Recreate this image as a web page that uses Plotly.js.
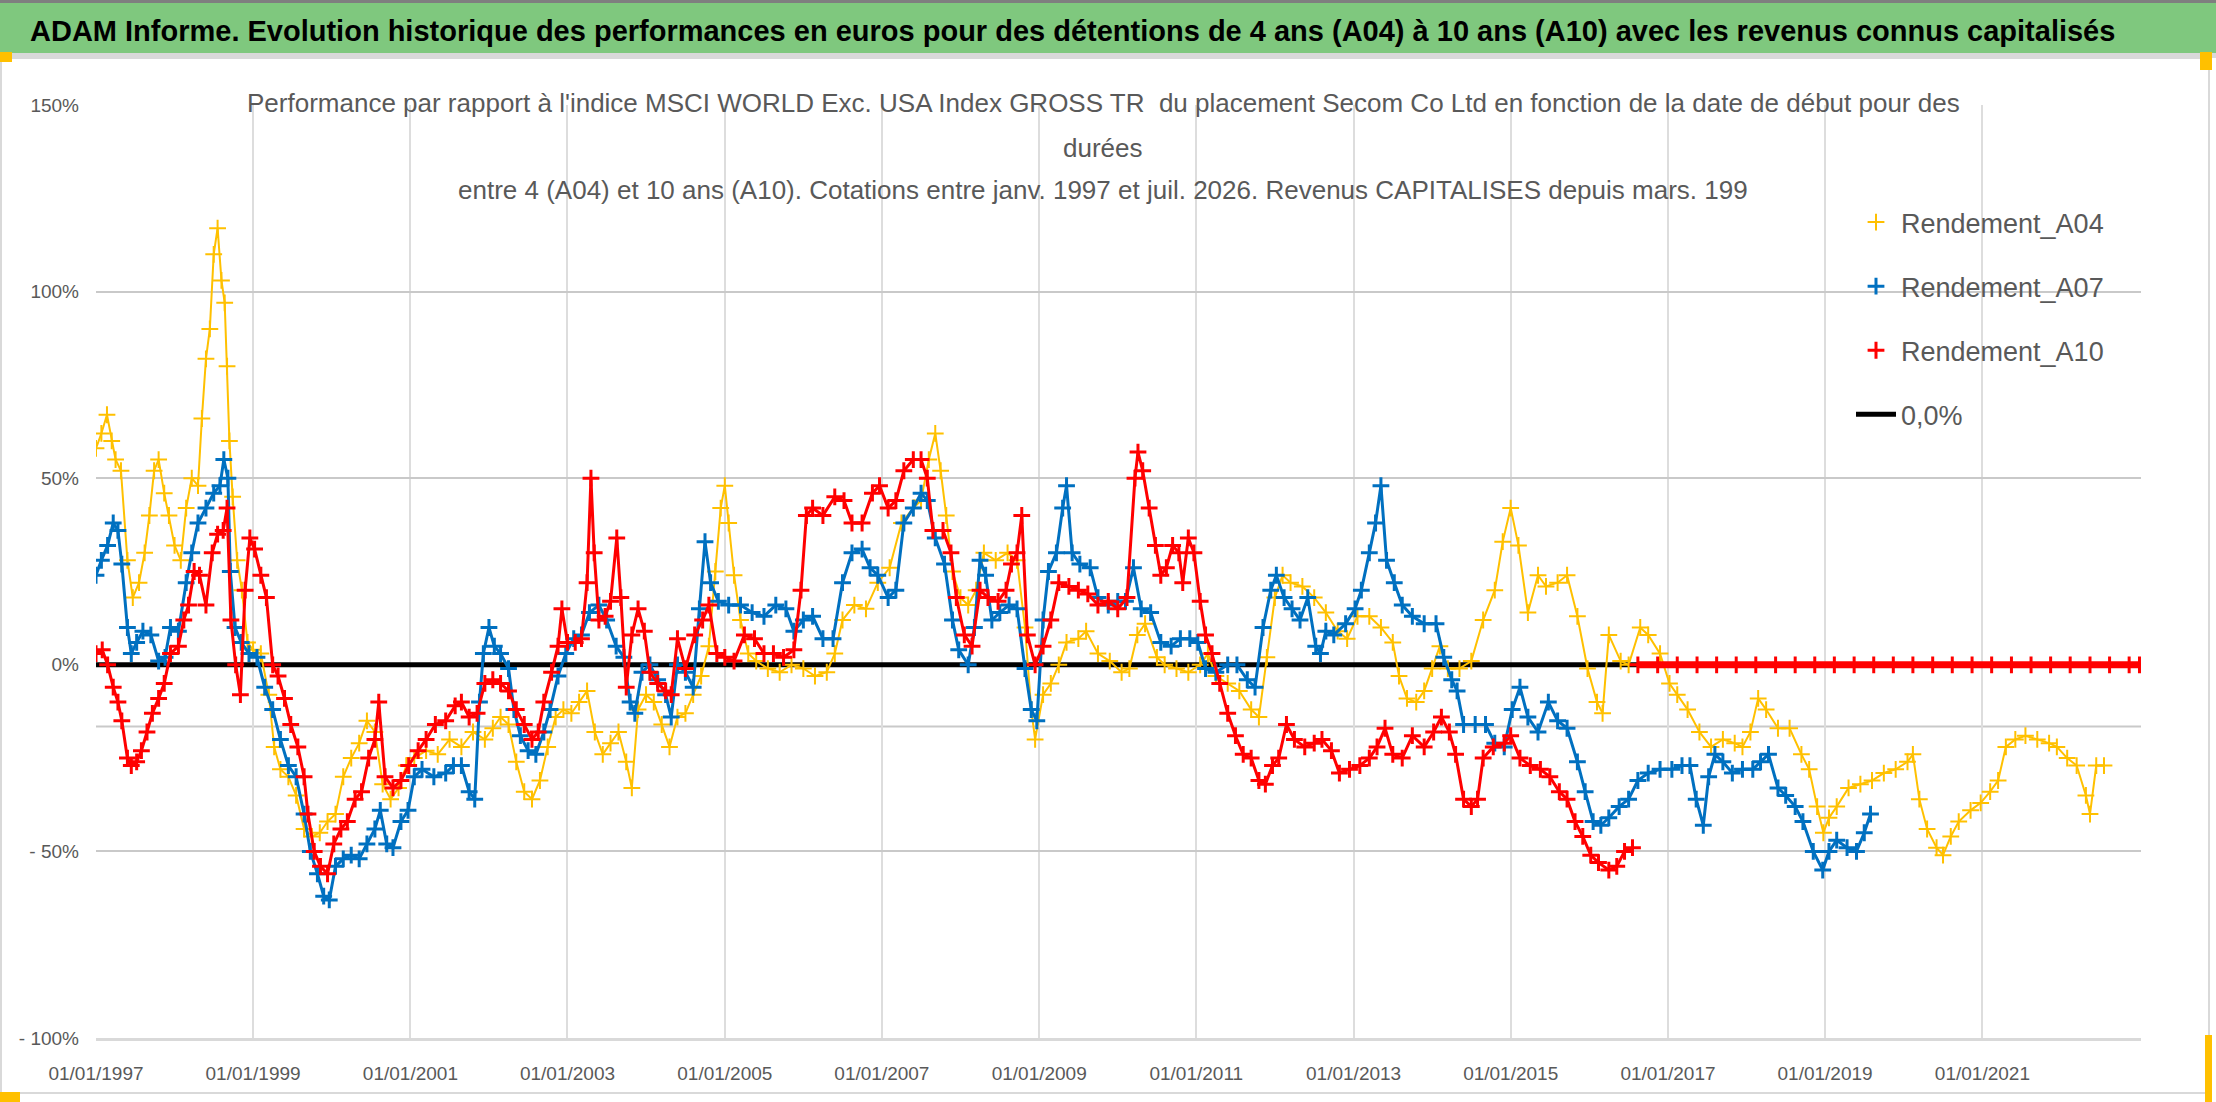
<!DOCTYPE html>
<html>
<head>
<meta charset="utf-8">
<script src="https://cdn.plot.ly/plotly-3.0.1.min.js"></script>
<style>
  body { margin: 0; background: #fff; }
  #chart { width: 2216px; height: 1102px; }
</style>
</head>
<body>
<div id="chart"></div>
<script>
// --- values (decimal year, percent) ---

var yearsA04 = [
  1997.00,1997.07,1997.14,1997.20,1997.25,1997.32,1997.40,1997.47,1997.55,1997.62,1997.68,1997.74,1997.80,1997.87,1997.93,
  1998.00,1998.08,1998.15,1998.22,1998.30,1998.35,1998.40,1998.45,1998.50,1998.55,1998.60,1998.64,1998.67,1998.70,1998.74,1998.80,1998.86,1998.93,
  1999.00,1999.10,1999.20,1999.27,1999.35,1999.45,1999.55,1999.65,1999.75,1999.85,1999.95,
  2000.05,2000.15,2000.25,2000.35,2000.45,2000.55,2000.65,2000.75,2000.85,2000.95,
  2001.05,2001.20,2001.35,2001.50,2001.65,2001.80,2001.95,
  2002.05,2002.15,2002.25,2002.35,2002.45,2002.55,2002.65,2002.75,2002.85,2002.95,
  2003.05,2003.15,2003.25,2003.35,2003.45,2003.55,2003.65,2003.75,2003.82,2003.90,
  2004.00,2004.10,2004.20,2004.30,2004.40,2004.50,2004.60,2004.70,2004.80,2004.88,2004.95,
  2005.00,2005.05,2005.12,2005.20,2005.30,2005.40,2005.55,2005.70,2005.85,
  2006.00,2006.15,2006.30,2006.40,2006.50,2006.65,2006.80,2006.95,
  2007.10,2007.25,2007.40,2007.50,2007.60,2007.68,2007.75,2007.82,2007.90,
  2008.00,2008.10,2008.20,2008.30,2008.45,2008.60,2008.72,2008.82,2008.90,2008.95,
  2009.05,2009.15,2009.25,2009.35,2009.50,2009.60,2009.75,2009.90,
  2010.05,2010.15,2010.25,2010.35,2010.50,2010.60,2010.75,2010.90,
  2011.05,2011.15,2011.25,2011.40,2011.55,2011.70,2011.80,2011.90,
  2012.00,2012.10,2012.20,2012.35,2012.50,2012.65,2012.80,2012.92,
  2013.05,2013.20,2013.35,2013.50,2013.58,2013.68,2013.80,2013.90,
  2014.00,2014.10,2014.20,2014.35,2014.50,2014.65,2014.80,2014.90,
  2015.00,2015.10,2015.22,2015.35,2015.45,2015.60,2015.72,2015.85,2015.98,
  2016.10,2016.17,2016.25,2016.40,2016.50,2016.65,2016.75,2016.90,
  2017.02,2017.12,2017.25,2017.40,2017.55,2017.70,2017.85,2017.95,
  2018.05,2018.15,2018.25,2018.40,2018.55,2018.70,2018.80,2018.90,2018.98,
  2019.05,2019.15,2019.30,2019.45,2019.60,2019.75,2019.90,
  2020.05,2020.12,2020.20,2020.30,2020.42,2020.50,2020.60,2020.70,2020.85,2020.98,
  2021.10,2021.20,2021.30,2021.42,2021.55,2021.70,2021.85,2021.95,
  2022.08,2022.20,2022.32,2022.37,2022.45,2022.55
];
var valuesA04 = [
  58,62,67,60,55,52,28,18,22,30,40,52,55,46,40,
  32,28,42,50,48,66,82,90,110,117,103,97,80,60,45,28,20,6,
  4,3,-8,-22,-28,-30,-35,-44,-46,-45,-42,
  -40,-30,-25,-21,-15,-18,-32,-36,-33,-27,
  -25,-23,-24,-20,-22,-18,-20,
  -17,-14,-16,-26,-34,-36,-31,-22,-14,-12,
  -13,-10,-7,-18,-24,-21,-18,-26,-33,-12,
  -8,-10,-16,-22,-14,-13,-8,-3,5,25,42,
  48,38,24,12,3,1,-1,-2,0,
  -1,-3,-2,3,12,16,15,22,
  26,38,42,44,55,62,52,40,25,
  18,16,20,30,28,30,28,10,-12,-20,
  -8,-5,0,6,7,9,3,1,
  -2,-1,8,11,2,0,-1,-2,
  0,3,-3,-5,-7,-12,-14,2,
  18,24,22,21,18,14,9,7,
  13,13,10,6,-3,-9,-10,-7,
  -1,5,-1,-1,1,12,20,33,
  42,32,14,24,21,22,24,13,-1,
  -10,-13,8,1,0,10,8,3,
  -5,-8,-12,-18,-22,-20,-21,-22,
  -18,-9,-12,-17,-17,-24,-28,-38,-45,
  -41,-38,-33,-32,-31,-29,-28,
  -26,-24,-36,-44,-49,-51,-46,-42,-39,-37,
  -34,-31,-22,-20,-19,-20,-21,-22,
  -25,-27,-35,-40,-27,-27
];

var yearsA07 = [
  1997.00,1997.07,1997.15,1997.22,1997.28,1997.33,1997.40,1997.45,1997.52,1997.60,1997.70,1997.80,1997.88,1997.95,
  1998.05,1998.15,1998.22,1998.30,1998.40,1998.50,1998.58,1998.63,1998.68,1998.71,1998.77,1998.85,1998.95,
  1999.05,1999.15,1999.25,1999.35,1999.45,1999.55,1999.65,1999.73,1999.82,1999.90,1999.97,
  2000.05,2000.15,2000.25,2000.35,2000.45,2000.55,2000.62,2000.70,2000.78,2000.88,2000.97,
  2001.05,2001.15,2001.30,2001.45,2001.55,2001.65,2001.75,2001.82,2001.88,2001.93,
  2002.00,2002.07,2002.15,2002.25,2002.32,2002.40,2002.50,2002.60,2002.70,2002.78,2002.88,2002.98,
  2003.08,2003.18,2003.28,2003.40,2003.50,2003.62,2003.72,2003.80,2003.86,2003.95,
  2004.05,2004.15,2004.25,2004.32,2004.40,2004.50,2004.60,2004.68,2004.75,2004.82,2004.92,
  2005.05,2005.20,2005.35,2005.50,2005.65,2005.78,2005.88,
  2006.00,2006.12,2006.25,2006.38,2006.50,2006.62,2006.75,2006.85,2006.95,
  2007.08,2007.18,2007.28,2007.40,2007.50,2007.58,2007.68,2007.80,2007.90,2007.98,
  2008.10,2008.18,2008.25,2008.32,2008.40,2008.50,2008.62,2008.72,2008.82,2008.90,2008.97,
  2009.05,2009.12,2009.22,2009.30,2009.35,2009.42,2009.52,2009.65,2009.75,2009.88,
  2010.00,2010.10,2010.20,2010.30,2010.42,2010.55,2010.68,2010.80,2010.92,
  2011.02,2011.12,2011.25,2011.40,2011.52,2011.65,2011.75,2011.85,2011.95,
  2012.02,2012.12,2012.22,2012.32,2012.42,2012.52,2012.58,2012.65,2012.75,2012.90,
  2013.02,2013.10,2013.20,2013.28,2013.35,2013.42,2013.52,2013.62,2013.75,2013.90,
  2014.05,2014.15,2014.25,2014.32,2014.40,2014.55,2014.68,2014.80,2014.92,
  2015.02,2015.12,2015.22,2015.35,2015.48,2015.60,2015.72,2015.85,2015.95,
  2016.05,2016.15,2016.25,2016.38,2016.50,2016.62,2016.75,2016.90,
  2017.05,2017.18,2017.28,2017.36,2017.45,2017.52,2017.60,2017.70,2017.82,2017.95,
  2018.08,2018.18,2018.28,2018.40,2018.50,2018.62,2018.72,2018.85,2018.97,
  2019.05,2019.15,2019.28,2019.40,2019.50,2019.58
];
var valuesA07 = [
  24,28,32,38,36,27,10,3,6,9,8,1,2,10,
  9,22,30,38,42,46,48,55,50,25,10,6,3,
  2,-6,-12,-20,-27,-30,-40,-50,-56,-62,-63,
  -54,-52,-51,-52,-48,-44,-39,-48,-49,-42,-39,
  -30,-28,-30,-29,-27,-27,-34,-36,-10,3,
  10,5,3,-1,-12,-19,-23,-24,-18,-12,-3,3,
  7,8,14,16,12,5,2,-10,-13,-2,
  0,-4,-8,-14,0,-2,-6,15,33,22,17,
  16,16,14,13,16,15,9,
  12,13,7,7,22,30,31,26,24,
  18,20,38,42,46,44,34,27,12,4,
  0,10,28,24,12,14,16,15,-1,-12,-15,
  12,25,30,42,48,30,27,26,18,16,
  17,17,26,15,14,6,5,7,7,
  6,-1,-2,0,0,-4,-6,10,20,
  24,18,15,12,18,5,3,9,8,11,
  15,20,30,38,48,28,22,16,13,11,
  11,2,-4,-7,-16,-16,-16,-21,-22,
  -12,-6,-14,-18,-10,-15,-17,-26,-34,
  -42,-43,-41,-38,-36,-31,-29,-28,
  -28,-27,-27,-36,-43,-30,-24,-26,-29,-28,
  -28,-26,-24,-33,-35,-38,-42,-50,-55,
  -50,-47,-49,-50,-45,-40
];

var yearsA10 = [
  1997.00,1997.08,1997.15,1997.22,1997.28,1997.33,1997.40,1997.45,1997.52,1997.58,1997.65,1997.72,1997.80,1997.87,1997.95,
  1998.05,1998.12,1998.18,1998.25,1998.32,1998.40,1998.48,1998.55,1998.62,1998.67,1998.72,1998.78,1998.84,1998.90,1998.96,
  1999.02,1999.10,1999.17,1999.25,1999.32,1999.40,1999.48,1999.57,1999.65,1999.70,1999.78,1999.86,1999.95,
  2000.03,2000.12,2000.20,2000.30,2000.38,2000.47,2000.55,2000.60,2000.68,2000.78,2000.88,2000.98,
  2001.10,2001.20,2001.32,2001.45,2001.57,2001.65,2001.75,2001.85,2001.95,
  2002.05,2002.15,2002.25,2002.35,2002.45,2002.55,2002.63,2002.70,2002.80,2002.88,2002.93,
  2003.00,2003.10,2003.18,2003.25,2003.30,2003.34,2003.40,2003.48,2003.55,2003.63,2003.68,2003.75,2003.82,2003.90,2003.98,
  2004.05,2004.15,2004.25,2004.32,2004.40,2004.50,2004.62,2004.72,2004.80,2004.90,
  2005.00,2005.12,2005.25,2005.38,2005.50,2005.62,2005.75,2005.88,2005.97,
  2006.04,2006.12,2006.25,2006.40,2006.52,2006.62,2006.75,2006.88,2006.97,
  2007.08,2007.18,2007.28,2007.40,2007.50,2007.58,2007.65,2007.78,2007.88,2007.95,
  2008.05,2008.15,2008.25,2008.35,2008.48,2008.58,2008.65,2008.72,2008.78,2008.85,2008.95,
  2009.05,2009.15,2009.25,2009.38,2009.50,2009.62,2009.75,2009.88,
  2010.00,2010.12,2010.22,2010.26,2010.32,2010.40,2010.48,2010.55,2010.62,2010.70,2010.78,2010.83,2010.90,2010.97,
  2011.05,2011.12,2011.20,2011.30,2011.40,2011.50,2011.60,2011.70,2011.80,2011.88,2011.97,
  2012.05,2012.15,2012.25,2012.38,2012.50,2012.60,2012.72,2012.82,2012.95,
  2013.08,2013.20,2013.30,2013.40,2013.50,2013.62,2013.75,2013.90,
  2014.02,2014.12,2014.22,2014.30,2014.40,2014.50,2014.58,2014.65,2014.78,2014.92,
  2015.00,2015.12,2015.25,2015.38,2015.50,2015.62,2015.72,2015.82,2015.92,
  2016.02,2016.12,2016.25,2016.35,2016.45,2016.55
];
var valuesA10 = [
  3,4,0,-6,-10,-15,-25,-27,-26,-23,-18,-13,-9,-5,3,
  5,12,16,25,24,16,30,35,36,42,12,0,-8,20,34,
  31,24,18,0,-3,-9,-16,-22,-30,-40,-50,-54,-56,
  -48,-44,-42,-36,-34,-25,-20,-10,-30,-33,-31,-27,
  -23,-20,-16,-15,-11,-10,-14,-13,-5,
  -4,-5,-7,-12,-16,-20,-18,-10,-2,5,15,
  6,6,7,22,50,30,12,13,17,34,18,-6,8,15,9,
  -2,-5,-7,-8,7,-1,8,12,16,3,
  2,1,8,7,3,3,2,4,20,
  40,42,40,45,44,38,38,46,48,
  42,44,52,55,55,50,36,36,30,18,
  8,5,20,18,17,20,27,30,40,8,0,
  5,12,22,21,20,19,16,17,
  15,18,50,57,52,42,32,24,26,32,30,22,34,30,
  17,8,3,-5,-13,-19,-24,-25,-31,-32,-27,
  -25,-16,-20,-22,-21,-20,-23,-29,-28,
  -27,-25,-22,-17,-24,-25,-19,-22,
  -18,-14,-18,-24,-36,-38,-36,-25,-22,-21,
  -19,-25,-27,-28,-30,-34,-36,-42,-46,
  -51,-53,-55,-54,-50,-49
];
// A10 has no full 10-year window after mid-2016: the series sits at 0
var yearsA10Tail = [
  2016.62,2016.87,2017.12,2017.37,2017.62,2017.87,2018.12,2018.37,2018.62,2018.87,
  2019.12,2019.37,2019.62,2019.87,2020.12,2020.37,2020.62,2020.87,2021.12,2021.37,
  2021.62,2021.87,2022.12,2022.37,2022.62,2022.87,2023.00
];
var valuesA10Tail = [
  0,0,0,0,0,0,0,0,0,0,
  0,0,0,0,0,0,0,0,0,0,
  0,0,0,0,0,0,0
];

var zeroDates = ['1997-01-01', '2023-01-01'];
var zeroValues = [0, 0];

var tickDates = ['1997-01-01','1999-01-01','2001-01-01','2003-01-01','2005-01-01','2007-01-01',
                 '2009-01-01','2011-01-01','2013-01-01','2015-01-01','2017-01-01','2019-01-01','2021-01-01'];
var tickLabels = ['01/01/1997','01/01/1999','01/01/2001','01/01/2003','01/01/2005','01/01/2007',
                  '01/01/2009','01/01/2011','01/01/2013','01/01/2015','01/01/2017','01/01/2019','01/01/2021'];
var yTicks = [-100, -50, 0, 50, 100, 150];
var yLabels = ['- 100%', '- 50%', '0%', '50%', '100%', '150%'];

var colA04 = '#FFC000', colA07 = '#0070C0', colA10 = '#FF0000';
var sans = 'Liberation Sans, Arial, sans-serif';

function toDate(d) {
    var y = Math.floor(d);
    var t0 = Date.UTC(y, 0, 1), t1 = Date.UTC(y + 1, 0, 1);
    return new Date(t0 + (d - y) * (t1 - t0)).toISOString().slice(0, 10);
}

// plot area in page pixels, used to place the decorations
var L = 96, R = 2141, T = 105, B = 1038;
function px(x) { return (x - L) / (R - L); }
function py(y) { return (B - y) / (B - T); }

function band(name, years, values, color, lw, rank) {
    var x = years.map(toDate);
    return [
        { type: 'scatter', mode: 'lines', x: x, y: values, showlegend: false, hoverinfo: 'skip',
          line: { color: color, width: lw } },
        { type: 'scatter', mode: 'markers', name: name, x: x, y: values,
          legendgroup: name, legendrank: rank,
          marker: { symbol: 'cross-thin', size: 12, color: color, line: { color: color, width: lw } } }
    ];
}

var data = [
    { type: 'scatter', mode: 'lines', name: '0,0%', x: zeroDates, y: zeroValues,
      legendgroup: 'zero', legendrank: 4, line: { color: '#000000', width: 5 } }
];
data = data.concat(band('Rendement_A04', yearsA04, valuesA04, colA04, 2, 1));
data = data.concat(band('Rendement_A07', yearsA07, valuesA07, colA07, 3, 2));
data = data.concat(band('Rendement_A10', yearsA10, valuesA10, colA10, 3, 3));
data.push({ type: 'scatter', mode: 'lines+markers', x: yearsA10Tail.map(toDate), y: valuesA10Tail,
    showlegend: false, line: { color: colA10, width: 7 },
    marker: { symbol: 'cross-thin', size: 12, color: colA10, line: { color: colA10, width: 3 } } });

function rect(x0, y0, x1, y1, fill, layer, lineCol) {
    return { type: 'rect', xref: 'paper', yref: 'paper', layer: layer || 'above',
             x0: px(x0), x1: px(x1), y0: py(y0), y1: py(y1),
             fillcolor: fill, line: { width: lineCol ? 2 : 0, color: lineCol || fill } };
}

var shapes = [
    rect(0, 0, 2216, 3, '#7F7F7F'),
    rect(0, 3, 2216, 53, '#7FC87E'),
    rect(0, 53, 2216, 58, '#D9D9D9'),
    rect(1, 58, 2209, 1093, 'rgba(0,0,0,0)', 'below', '#D9D9D9'),
    rect(226, 100, 1971, 209, '#FFFFFF', 'between'),
    rect(1808, 193, 2140, 450, '#FFFFFF', 'between'),
    { type: 'line', xref: 'paper', yref: 'y', x0: 0, x1: 1, y0: -16.5, y1: -16.5, layer: 'below',
      line: { color: '#C9C9C9', width: 2 } },
    rect(0, 52, 12, 62, '#FFC000'),
    rect(2200, 52, 2212, 70, '#FFC000'),
    rect(0, 1092, 20, 1102, '#FFC000'),
    rect(2205, 1035, 2212, 1102, '#FFC000')
];

var annotations = [
    { xref: 'paper', yref: 'paper', x: px(1072), y: py(31), xanchor: 'center', yanchor: 'middle', showarrow: false,
      text: '<b>ADAM Informe. Evolution historique des performances en euros pour des détentions de 4 ans (A04) à 10 ans (A10) avec les revenus connus capitalisés</b>',
      font: { family: sans, size: 29, color: '#000000' } },
    { xref: 'paper', yref: 'paper', x: px(1103), y: py(103), xanchor: 'center', yanchor: 'middle', showarrow: false,
      text: "Performance par rapport à l'indice MSCI WORLD Exc. USA Index GROSS TR  du placement Secom Co Ltd en fonction de la date de début pour des",
      font: { family: sans, size: 26, color: '#595959' } },
    { xref: 'paper', yref: 'paper', x: px(1103), y: py(148), xanchor: 'center', yanchor: 'middle', showarrow: false,
      text: 'durées', font: { family: sans, size: 26, color: '#595959' } },
    { xref: 'paper', yref: 'paper', x: px(1103), y: py(190), xanchor: 'center', yanchor: 'middle', showarrow: false,
      text: 'entre 4 (A04) et 10 ans (A10). Cotations entre janv. 1997 et juil. 2026. Revenus CAPITALISES depuis mars. 199',
      font: { family: sans, size: 26, color: '#595959' } }
];

var layout = {
    width: 2216, height: 1102,
    margin: { l: L, r: 2216 - R, t: T, b: 1102 - B },
    paper_bgcolor: '#FFFFFF', plot_bgcolor: '#FFFFFF',
    showlegend: true,
    legend: {
        x: px(1851), y: py(198), xanchor: 'left', yanchor: 'top',
        bgcolor: 'rgba(255,255,255,0)', borderwidth: 0,
        traceorder: 'grouped', tracegroupgap: 26, itemwidth: 40,
        font: { family: sans, size: 27, color: '#595959' }
    },
    xaxis: {
        type: 'date', range: ['1997-01-01', '2023-01-08'],
        tickmode: 'array', tickvals: tickDates, ticktext: tickLabels,
        showgrid: true, gridcolor: '#DDDDDD', gridwidth: 2,
        showline: true, linecolor: '#D9D9D9', linewidth: 3,
        zeroline: false, ticks: '', ticklabelstandoff: 16,
        tickfont: { family: sans, size: 19, color: '#595959' }
    },
    yaxis: {
        range: [-100, 150],
        tickmode: 'array', tickvals: yTicks, ticktext: yLabels,
        showgrid: true, gridcolor: '#C9C9C9', gridwidth: 2,
        zeroline: false, showline: false, ticks: '', ticklabelstandoff: 16,
        tickfont: { family: sans, size: 19, color: '#595959' }
    },
    shapes: shapes,
    annotations: annotations
};

Plotly.newPlot('chart', data, layout, { staticPlot: true, displayModeBar: false });
</script>
</body>
</html>
